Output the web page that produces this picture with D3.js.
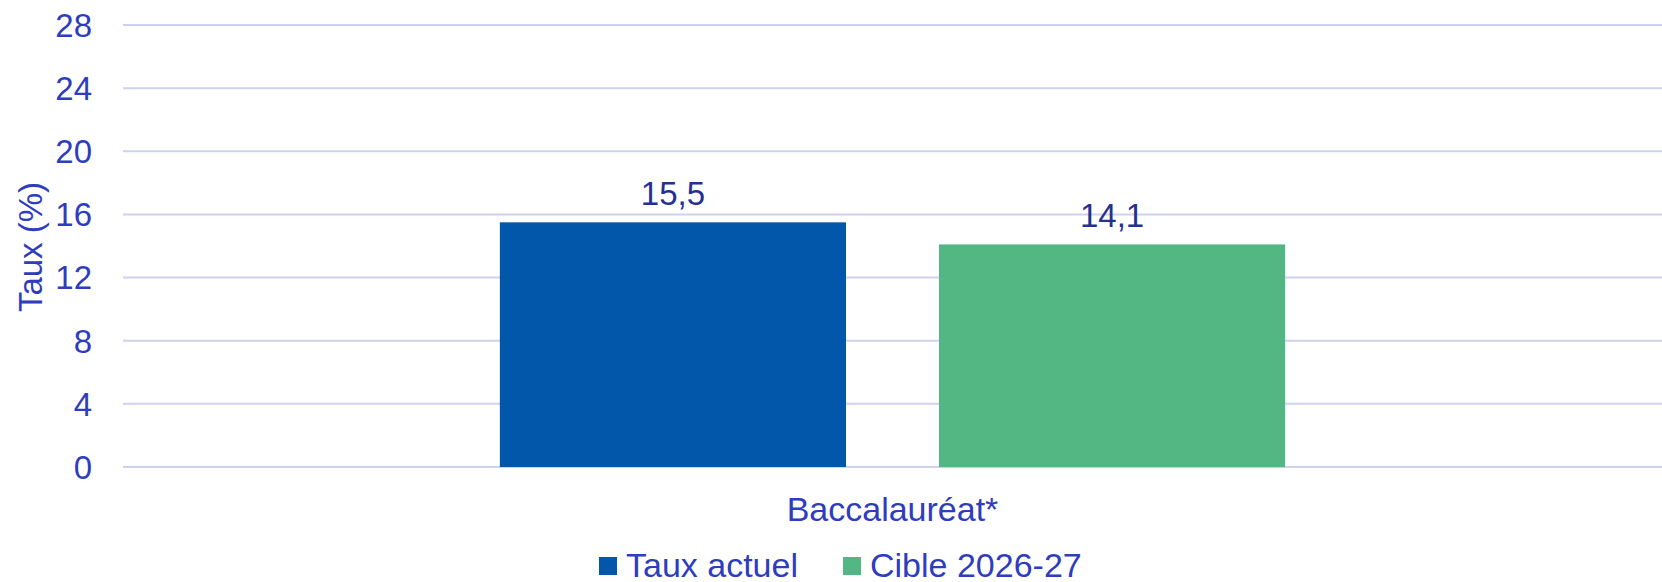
<!DOCTYPE html>
<html>
<head>
<meta charset="utf-8">
<script src="https://cdn.jsdelivr.net/npm/d3@7"></script>
<style>
  body { margin: 0; background: #fff; }
  text { font-family: "Liberation Sans", Arial, sans-serif; }
</style>
</head>
<body>
<svg width="1662" height="582" id="mainsvg"></svg>
<script>
const categories = ['Baccalauréat*'];
const series = ['Taux actuel', 'Cible 2026-27'];
const values = [[15.5, 14.1]];
const labels = [['15,5', '14,1']];
const yTicks = [0, 4, 8, 12, 16, 20, 24, 28];
const colors = ['#0357AA', '#53B784'];

const svg = d3.select('svg');
const margin = { top: 25, right: 0, bottom: 115, left: 123 };
const width = +svg.attr('width');
const height = +svg.attr('height');
const innerWidth = width - margin.left - margin.right;
const innerHeight = height - margin.top - margin.bottom;
const axisColor = '#2E3DBD';

const g = svg.append('g').attr('transform', `translate(${margin.left},${margin.top})`);

const y = d3.scaleLinear().domain([0, 28]).range([innerHeight, 0]);
const x0 = d3.scaleBand().domain(categories).range([0, innerWidth])
  .paddingInner(0.2733).paddingOuter(0.2733);
const x1 = d3.scaleBand().domain(series).range([0, x0.bandwidth()])
  .paddingInner(0.2118).paddingOuter(0.1059);

// gridlines
g.selectAll('line.grid').data(yTicks).join('line')
  .attr('class', 'grid')
  .attr('x1', 0).attr('x2', innerWidth)
  .attr('y1', d => y(d)).attr('y2', d => y(d))
  .attr('stroke', '#CDD2F1').attr('stroke-width', 2);

// y tick labels
g.selectAll('text.ytick').data(yTicks).join('text')
  .attr('class', 'ytick')
  .attr('x', -31).attr('y', d => y(d))
  .attr('dy', '0.36em')
  .attr('text-anchor', 'end')
  .attr('font-size', 33).attr('fill', axisColor)
  .text(d => d);

// y title
svg.append('text')
  .attr('transform', 'translate(42,247) rotate(-90)')
  .attr('text-anchor', 'middle')
  .attr('font-size', 33).attr('fill', axisColor)
  .text('Taux (%)');

// bars
const rows = (d, i) => series.map((s, j) => ({ s, v: values[i][j], l: labels[i][j], j }));
const cat = g.selectAll('g.cat').data(categories).join('g')
  .attr('class', 'cat')
  .attr('transform', d => `translate(${x0(d)},0)`);

cat.selectAll('rect').data(rows).join('rect')
  .attr('x', d => x1(d.s)).attr('width', x1.bandwidth())
  .attr('y', d => y(d.v)).attr('height', d => y(0) - y(d.v))
  .attr('fill', d => colors[d.j]);

cat.selectAll('text.val').data(rows).join('text')
  .attr('class', 'val')
  .attr('x', d => x1(d.s) + x1.bandwidth() / 2)
  .attr('y', d => y(d.v) - 17)
  .attr('text-anchor', 'middle')
  .attr('font-size', 33).attr('fill', '#25318F')
  .text(d => d.l);

// category label
g.selectAll('text.xcat').data(categories).join('text')
  .attr('class', 'xcat')
  .attr('x', d => x0(d) + x0.bandwidth() / 2)
  .attr('y', innerHeight + 54)
  .attr('text-anchor', 'middle')
  .attr('font-size', 34).attr('fill', axisColor)
  .text(d => d);

// legend
const legendX = [599, 843];
const items = svg.append('g').selectAll('g').data(series).join('g')
  .attr('transform', (d, i) => `translate(${legendX[i]},557)`);
items.append('rect').attr('width', 18).attr('height', 18)
  .attr('fill', (d, i) => colors[i]);
items.append('text').attr('x', 27).attr('y', 19.5)
  .attr('font-size', 34).attr('fill', axisColor)
  .text(d => d);
</script>
</body>
</html>
